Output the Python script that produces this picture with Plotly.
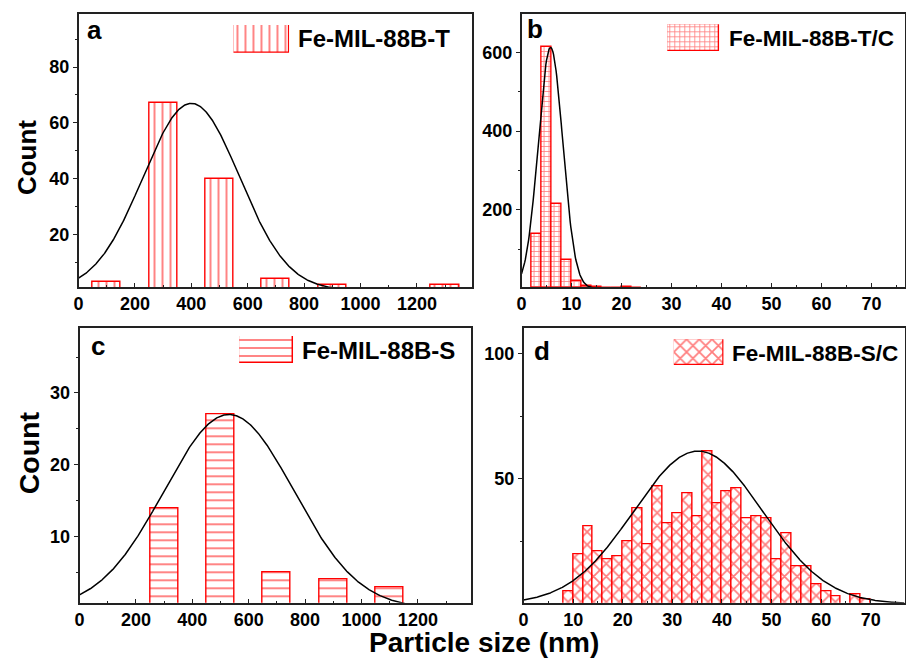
import numpy as np
import plotly.graph_objects as go

W, H = 906, 660
FONT = "Liberation Sans, Arial, sans-serif"
RED = "#ff0000"

# ---- histogram data -------------------------------------------------------
# (a) Fe-MIL-88B-T, bin width 100 nm
a_centers = [100, 300, 500, 700, 900, 1300]
a_counts = [3, 67, 40, 4, 2, 2]
# (b) Fe-MIL-88B-T/C, bin width 2 nm
b_centers = [3, 5, 7, 9, 11, 13, 15, 17, 19, 21, 23]
b_counts = [138, 613, 215, 71, 20, 5, 4, 2, 2, 4, 2]
# (c) Fe-MIL-88B-S, bin width 100 nm
c_centers = [300, 500, 700, 900, 1100]
c_counts = [14, 27, 5, 4, 3]
# (d) Fe-MIL-88B-S/C, bin width 2 nm
d_centers = [9, 11, 13, 15, 17, 19, 21, 23, 25, 27, 29, 31, 33, 35, 37, 39,
             41, 43, 45, 47, 49, 51, 53, 55, 57, 59, 61, 63, 65, 67, 69]
d_counts = [5, 20, 31, 21, 18, 19, 25, 38, 24, 47, 32, 36, 44, 35, 61, 40,
            45, 46, 34, 35, 34, 18, 28, 15, 15, 8, 5, 3, 0, 4, 2]

# Gaussian fit parameters (center, sigma, amplitude)
a_fit = (400, 171, 67)
b_fit = (5.8, 2.45, 613)
c_fit = (530, 230, 27)
d_fit = (35.2, 13.0, 61)

labels = ["Fe-MIL-88B-T", "Fe-MIL-88B-T/C", "Fe-MIL-88B-S", "Fe-MIL-88B-S/C"]
letters = ["a", "b", "c", "d"]


def px(x):
    return x / W


def py(y):
    return 1 - y / H


panels = [
    dict(c=a_centers, n=a_counts, w=100, fit=a_fit, shape="|", ps=8, sol=0.24,
         xr=[0, 1395], yr=[1.2, 99], xd=200, xm=100, yd=20, ym=10, box=(74, 14, 470, 287)),
    dict(c=b_centers, n=b_counts, w=2, fit=b_fit, shape="+", ps=5, sol=0.3,
         xr=[0, 76.6], yr=[3.5, 698], xd=10, xm=5, yd=200, ym=100, box=(520, 14, 905.5, 287)),
    dict(c=c_centers, n=c_counts, w=100, fit=c_fit, shape="-", ps=8, sol=0.24,
         xr=[0, 1388], yr=[0.8, 39], xd=200, xm=100, yd=10, ym=5, box=(75, 328.3, 469, 602.7)),
    dict(c=d_centers, n=d_counts, w=2, fit=d_fit, shape="x", ps=9, sol=0.35,
         xr=[0, 76.8], yr=[0.5, 110], xd=10, xm=5, yd=50, ym=25, box=(522, 328.3, 905.5, 602.7)),
]

# legend swatch rectangles and text anchors (px)
swatches = [(230, 25, 286, 52.7), (666.7, 24.3, 719, 51),
            (235.7, 336, 290, 363.3), (673.3, 339.3, 723.3, 365)]
legend_text = [(293, 38.3, 24), (726.7, 38.3, 22.5), (297.3, 350, 24), (730, 353.3, 22.5)]
letter_pos = [(81, 30), (523, 29), (85, 346), (531, 351)]

fig = go.Figure()
layout = dict(width=W, height=H, margin=dict(l=0, r=0, t=0, b=0),
              paper_bgcolor="white", plot_bgcolor="white", showlegend=False,
              font=dict(family=FONT, color="black"), bargap=0)
annotations = []

for i, p in enumerate(panels):
    k = "" if i == 0 else str(i + 1)
    xa, ya = "x" + k, "y" + k
    pattern = dict(shape=p["shape"], fgcolor=RED, bgcolor="white",
                   size=p["ps"], solidity=p["sol"])
    fig.add_trace(go.Bar(
        x=p["c"], y=p["n"], width=p["w"], xaxis=xa, yaxis=ya,
        marker=dict(color="white", line=dict(color=RED, width=1.4), pattern=pattern),
    ))
    mu, sig, amp = p["fit"]
    xs = np.linspace(p["xr"][0], p["xr"][1], 600)
    ys = amp * np.exp(-(xs - mu) ** 2 / (2 * sig ** 2))
    fig.add_trace(go.Scatter(x=xs, y=ys, mode="lines", xaxis=xa, yaxis=ya,
                             line=dict(color="black", width=1.5)))

    x0, y0, x1, y1 = p["box"]
    tickfont = dict(family=FONT, size=18, color="black", weight="bold")
    axis_common = dict(showline=True, linecolor="#222", linewidth=1.5, mirror=True,
                       showgrid=False, zeroline=False, tickwidth=1.2, tickcolor="#222",
                       tickfont=tickfont)
    layout["xaxis" + k] = dict(axis_common, domain=[px(x0), px(x1)], range=p["xr"],
                               anchor=ya, tick0=0, dtick=p["xd"], ticks="inside", ticklen=4,
                               minor=dict(dtick=p["xm"], ticks="inside", ticklen=2,
                                          tickcolor="#222"))
    layout["yaxis" + k] = dict(axis_common, domain=[py(y1), py(y0)], range=p["yr"],
                               anchor=xa, tick0=0, dtick=p["yd"], ticks="outside", ticklen=4,
                               minor=dict(dtick=p["ym"], ticks="outside", ticklen=2,
                                          tickcolor="#222"))

    # legend swatch drawn as a single patterned bar on its own small axes
    j = str(i + 5)
    sx0, sy0, sx1, sy1 = swatches[i]
    fig.add_trace(go.Bar(
        x=[0], y=[1], width=1, xaxis="x" + j, yaxis="y" + j, cliponaxis=False,
        marker=dict(color="white", line=dict(color=RED, width=1.6), pattern=pattern),
    ))
    layout["xaxis" + j] = dict(domain=[px(sx0), px(sx1)], range=[-0.5, 0.5],
                               visible=False, anchor="y" + j)
    layout["yaxis" + j] = dict(domain=[py(sy1), py(sy0)], range=[0, 1],
                               visible=False, anchor="x" + j)

    tx, ty, ts = legend_text[i]
    annotations.append(dict(text=labels[i], x=px(tx), y=py(ty), xref="paper", yref="paper",
                            xanchor="left", yanchor="middle", showarrow=False,
                            font=dict(family=FONT, size=ts, color="black", weight="bold")))
    lx, ly = letter_pos[i]
    annotations.append(dict(text=letters[i], x=px(lx), y=py(ly), xref="paper", yref="paper",
                            xanchor="left", yanchor="middle", showarrow=False,
                            font=dict(family=FONT, size=26, color="black", weight="bold")))

# shared axis titles
annotations.append(dict(text="Count", x=px(21.7), y=py(157.5), xref="paper", yref="paper",
                        textangle=-90, showarrow=False, xanchor="center", yanchor="middle",
                        font=dict(family=FONT, size=26, color="black", weight="bold")))
annotations.append(dict(text="Count", x=px(25), y=py(452.5), xref="paper", yref="paper",
                        textangle=-90, showarrow=False, xanchor="center", yanchor="middle",
                        font=dict(family=FONT, size=28.5, color="black", weight="bold")))
annotations.append(dict(text="Particle size (nm)", x=px(481.7), y=py(642.5), xref="paper",
                        yref="paper", showarrow=False, xanchor="center", yanchor="middle",
                        font=dict(family=FONT, size=28, color="black", weight="bold")))

layout["annotations"] = annotations
fig.update_layout(**layout)
fig.write_html("out.html")
